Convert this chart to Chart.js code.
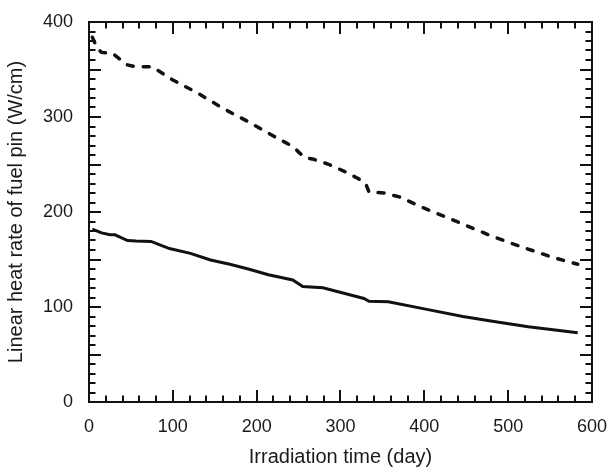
<!DOCTYPE html>
<html>
<head>
<meta charset="utf-8">
<script src="https://cdn.jsdelivr.net/npm/chart.js@4/dist/chart.umd.min.js"></script>
<style>
  html, body { margin: 0; padding: 0; background: #fff; }
  #wrap { width: 613px; height: 473px; }
</style>
</head>
<body>
<div id="wrap"><canvas id="Chart" width="613" height="473"></canvas></div>
<script>
// * Upper (dashed) curve, day / W/cm
const upperDays = [4, 10, 15, 28, 45, 55, 75, 100, 130, 160, 190, 220, 245, 250, 258, 268, 285, 304, 322, 330, 334, 352, 370, 400, 444, 482, 517, 554, 583]
const upperRate = [384, 372, 368, 367, 355, 353, 353, 339, 325, 309, 295, 280, 268, 263, 257, 255.5, 250.5, 243, 234.7, 230, 221, 220, 216, 204, 188, 174, 163, 152, 145]

// * Lower (solid) curve
const lowerDays = [4, 15, 25, 31, 46, 56, 74, 96, 121, 145, 168, 190, 214, 243, 255, 279, 328, 334, 357, 403, 446, 485, 524, 583]
const lowerRate = [182, 178, 176, 176, 170, 169.5, 169, 161.5, 156.5, 149.5, 145, 140, 134, 128.5, 121.5, 120.3, 109, 106, 105.6, 97.5, 90, 84.5, 79.3, 73]

// * Axis ranges
const xTicks = [0, 100, 200, 300, 400, 500, 600]
const yTicks = [0, 100, 200, 300, 400]

const toPoints = (xs, ys) => xs.map((x, i) => ({ x: x, y: ys[i] }))

const font = "'Liberation Sans', Arial, sans-serif"

// * Frame + inward ticks on all four sides
const frameTicks = {
    id: 'frameTicks',
    afterDraw(chart) {
        const { ctx, chartArea: a, scales: { x, y } } = chart
        ctx.save()
        ctx.strokeStyle = '#111'
        ctx.lineWidth = 2
        ctx.strokeRect(a.left, a.top, a.right - a.left, a.bottom - a.top)
        ctx.beginPath()
        for (let v = 0; v <= 600; v += 20) {
            const px = Math.round(x.getPixelForValue(v))
            const len = v % 100 === 0 ? 12 : 6.5
            ctx.moveTo(px, a.bottom); ctx.lineTo(px, a.bottom - len)
            ctx.moveTo(px, a.top); ctx.lineTo(px, a.top + len)
        }
        for (let v = 0; v <= 400; v += 10) {
            const py = Math.round(y.getPixelForValue(v))
            const len = v % 50 === 0 ? 12 : 6.5
            ctx.moveTo(a.left, py); ctx.lineTo(a.left + len, py)
            ctx.moveTo(a.right, py); ctx.lineTo(a.right - len, py)
        }
        ctx.stroke()
        ctx.restore()
    }
}

const data = {
    datasets: [{
        label: 'upper',
        data: toPoints(upperDays, upperRate),
        borderColor: '#111',
        borderWidth: 3.5,
        borderDash: [6, 10],
        borderCapStyle: 'round',
        pointRadius: 0,
        tension: 0
    }, {
        label: 'lower',
        data: toPoints(lowerDays, lowerRate),
        borderColor: '#111',
        borderWidth: 3,
        pointRadius: 0,
        tension: 0
    }]
}

const config = {
    type: 'line',
    data,
    options: {
        responsive: false,
        animation: false,
        layout: { padding: { top: 22, right: 16, left: 0, bottom: 0 } },
        plugins: {
            legend: { display: false },
            tooltip: { enabled: false }
        },
        scales: {
            x: {
                type: 'linear',
                min: 0,
                max: 600,
                afterBuildTicks: (s) => { s.ticks = xTicks.map(v => ({ value: v })) },
                afterFit: (s) => { s.height = 473 - 402 },
                grid: { display: false },
                border: { display: false },
                ticks: { color: '#1a1a1a', padding: 6, maxRotation: 0, font: { family: font, size: 18 } },
                title: { display: true, text: 'Irradiation time (day)', color: '#1a1a1a', padding: { top: 12 }, font: { family: font, size: 20 } }
            },
            y: {
                min: 0,
                max: 400,
                afterBuildTicks: (s) => { s.ticks = yTicks.map(v => ({ value: v })) },
                afterFit: (s) => { s.width = 89 },
                grid: { display: false },
                border: { display: false },
                ticks: { color: '#1a1a1a', padding: 8, font: { family: font, size: 18 } },
                title: { display: true, text: 'Linear heat rate of fuel pin (W/cm)', color: '#1a1a1a', padding: { bottom: 4 }, font: { family: font, size: 20 } }
            }
        }
    },
    plugins: [frameTicks]
}

const lineChart = new Chart(document.getElementById('Chart'), config)
</script>
</body>
</html>
